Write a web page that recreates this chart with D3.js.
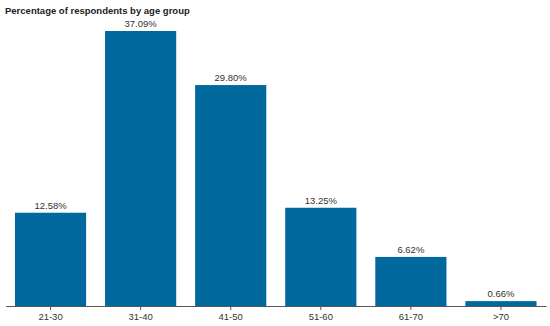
<!DOCTYPE html>
<html>
<head>
<meta charset="utf-8">
<script src="https://cdn.jsdelivr.net/npm/d3@7"></script>
<style>
  body { margin: 0; background: #fff; }
</style>
</head>
<body>
<div id="chart"></div>
<script>
// Data
const ageGroups = ["21-30", "31-40", "41-50", "51-60", "61-70", ">70"];
const percentages = [12.58, 37.09, 29.80, 13.25, 6.62, 0.66];

const width = 550;
const height = 326;
const margin = { top: 31, right: 4, bottom: 20, left: 5 };

const svg = d3.select("#chart")
  .append("svg")
  .attr("width", width)
  .attr("height", height)
  .style("font-family", "Liberation Sans, Arial, sans-serif");

const barColor = "#02699e";

const x = d3.scaleBand()
  .domain(ageGroups)
  .range([margin.left + 0.5, width - margin.right])
  .paddingInner(0.21)
  .paddingOuter(0.105);

const y = d3.scaleLinear()
  .domain([0, d3.max(percentages)])
  .range([height - margin.bottom, margin.top]);

// Title
svg.append("text")
  .attr("x", 5)
  .attr("y", 14)
  .style("font-size", "9.5px")
  .style("font-weight", "bold")
  .style("fill", "#222")
  .text("Percentage of respondents by age group");

// Bars
svg.selectAll("rect.bar")
  .data(percentages)
  .join("rect")
  .attr("class", "bar")
  .attr("x", (d, i) => x(ageGroups[i]))
  .attr("y", d => y(d))
  .attr("width", x.bandwidth())
  .attr("height", d => y(0) - y(d))
  .attr("fill", barColor);

// Value labels
svg.selectAll("text.value")
  .data(percentages)
  .join("text")
  .attr("class", "value")
  .attr("x", (d, i) => x(ageGroups[i]) + x.bandwidth() / 2)
  .attr("y", d => y(d) - 4)
  .attr("text-anchor", "middle")
  .style("font-size", "9.5px")
  .style("fill", "#333")
  .text(d => d.toFixed(2) + "%");

// X axis
const xAxis = svg.append("g")
  .attr("transform", `translate(0,${y(0)})`)
  .call(d3.axisBottom(x).tickSize(4).tickSizeOuter(0));

xAxis.select(".domain").attr("stroke", "#555").attr("stroke-width", 1.2);
xAxis.selectAll(".tick line").attr("stroke", "#555");
xAxis.selectAll(".tick text")
  .attr("dy", "0.9em")
  .attr("y", 5)
  .style("font-size", "9.5px")
  .style("font-family", "Liberation Sans, Arial, sans-serif")
  .style("fill", "#333");
</script>
</body>
</html>
